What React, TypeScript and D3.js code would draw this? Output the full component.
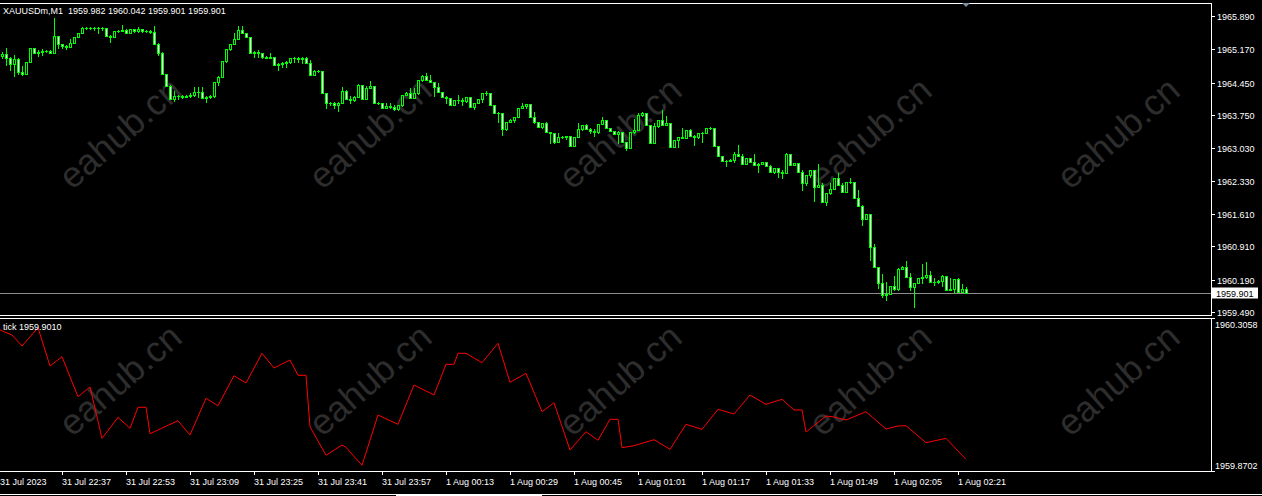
import React from 'react';
import * as d3 from 'd3';

const W = 1262;
const H = 496;

// M1 candles, 31 Jul 22:22 .. 1 Aug 02:23 (open = previous close)
const firstOpen = 1965.02;
const closes = [
  1965.07, 1964.98, 1964.85, 1964.96, 1964.68, 1964.64, 1964.89, 1965.20, 1965.09, 1965.11,
  1965.13, 1965.13, 1965.09, 1965.46, 1965.29, 1965.24, 1965.22, 1965.31, 1965.44, 1965.52,
  1965.63, 1965.63, 1965.63, 1965.63, 1965.63, 1965.63, 1965.46, 1965.44, 1965.57, 1965.57,
  1965.59, 1965.52, 1965.61, 1965.57, 1965.61, 1965.57, 1965.57, 1965.54, 1965.29, 1965.09,
  1964.64, 1964.38, 1964.10, 1964.16, 1964.16, 1964.14, 1964.16, 1964.18, 1964.25, 1964.25,
  1964.12, 1964.14, 1964.16, 1964.46, 1964.57, 1964.92, 1965.18, 1965.29, 1965.39, 1965.59,
  1965.52, 1965.44, 1965.09, 1965.11, 1965.09, 1965.00, 1964.98, 1965.00, 1964.83, 1964.85,
  1964.87, 1964.89, 1964.98, 1964.98, 1964.96, 1964.98, 1964.87, 1964.61, 1964.70, 1964.70,
  1964.23, 1964.01, 1964.01, 1963.97, 1964.01, 1964.27, 1964.10, 1964.07, 1964.14, 1964.40,
  1964.10, 1964.33, 1964.38, 1964.01, 1964.01, 1963.90, 1963.94, 1963.92, 1963.88, 1963.97,
  1964.18, 1964.23, 1964.12, 1964.23, 1964.51, 1964.59, 1964.51, 1964.46, 1964.36, 1964.25,
  1964.14, 1964.12, 1963.97, 1964.07, 1964.07, 1964.05, 1964.14, 1963.92, 1964.01, 1964.10,
  1964.23, 1964.23, 1963.97, 1963.79, 1963.79, 1963.45, 1963.60, 1963.64, 1963.71, 1963.90,
  1963.94, 1963.99, 1963.71, 1963.60, 1963.49, 1963.58, 1963.38, 1963.36, 1963.17, 1963.27,
  1963.27, 1963.30, 1963.08, 1963.27, 1963.45, 1963.53, 1963.45, 1963.40, 1963.38, 1963.56,
  1963.64, 1963.47, 1963.40, 1963.34, 1963.38, 1963.17, 1963.04, 1963.38, 1963.43, 1963.75,
  1963.79, 1963.53, 1963.14, 1963.51, 1963.64, 1963.53, 1963.58, 1963.06, 1963.21, 1963.27,
  1963.25, 1963.43, 1963.30, 1963.27, 1963.36, 1963.36, 1963.47, 1963.47, 1963.08, 1962.86,
  1962.76, 1962.76, 1962.78, 1962.91, 1962.86, 1962.69, 1962.82, 1962.73, 1962.67, 1962.69,
  1962.73, 1962.65, 1962.52, 1962.60, 1962.52, 1962.50, 1962.91, 1962.67, 1962.71, 1962.52,
  1962.28, 1962.45, 1962.56, 1962.19, 1962.24, 1961.87, 1962.06, 1962.15, 1962.39, 1962.24,
  1962.08, 1962.30, 1962.30, 1961.96, 1961.78, 1961.50, 1961.61, 1960.90, 1960.46, 1960.12,
  1959.86, 1959.88, 1960.05, 1959.99, 1960.42, 1960.46, 1960.25, 1960.03, 1960.12, 1960.23,
  1960.25, 1960.29, 1960.14, 1960.14, 1960.16, 1960.27, 1959.97, 1959.99, 1960.20, 1959.92,
  1959.98, 1959.90,
];
const highs = [
  1965.11, 1965.20, 1965.00, 1965.05, 1964.98, 1964.81, 1964.89, 1965.20, 1965.20, 1965.15,
  1965.18, 1965.15, 1965.15, 1965.85, 1965.46, 1965.29, 1965.26, 1965.39, 1965.44, 1965.52,
  1965.65, 1965.65, 1965.65, 1965.65, 1965.65, 1965.65, 1965.63, 1965.48, 1965.57, 1965.59,
  1965.70, 1965.61, 1965.61, 1965.61, 1965.65, 1965.61, 1965.59, 1965.59, 1965.67, 1965.31,
  1965.11, 1964.64, 1964.40, 1964.27, 1964.18, 1964.18, 1964.18, 1964.23, 1964.36, 1964.36,
  1964.36, 1964.16, 1964.18, 1964.46, 1964.59, 1964.92, 1965.18, 1965.29, 1965.52, 1965.67,
  1965.67, 1965.52, 1965.44, 1965.13, 1965.15, 1965.02, 1965.02, 1965.09, 1965.00, 1964.87,
  1964.89, 1964.92, 1964.98, 1965.00, 1965.00, 1965.00, 1965.00, 1964.94, 1964.72, 1964.72,
  1964.70, 1964.23, 1964.03, 1964.03, 1964.03, 1964.36, 1964.29, 1964.16, 1964.16, 1964.42,
  1964.40, 1964.38, 1964.48, 1964.38, 1964.03, 1964.01, 1964.01, 1964.01, 1963.97, 1963.97,
  1964.18, 1964.25, 1964.33, 1964.33, 1964.51, 1964.61, 1964.66, 1964.61, 1964.46, 1964.44,
  1964.25, 1964.16, 1964.12, 1964.07, 1964.18, 1964.12, 1964.14, 1964.14, 1964.01, 1964.10,
  1964.23, 1964.27, 1964.23, 1963.97, 1963.81, 1963.79, 1963.60, 1963.66, 1963.71, 1963.90,
  1964.01, 1963.99, 1963.99, 1963.81, 1963.60, 1963.58, 1963.60, 1963.38, 1963.36, 1963.36,
  1963.30, 1963.30, 1963.30, 1963.27, 1963.58, 1963.53, 1963.56, 1963.47, 1963.45, 1963.56,
  1963.71, 1963.64, 1963.47, 1963.40, 1963.40, 1963.38, 1963.17, 1963.38, 1963.66, 1963.79,
  1963.81, 1963.79, 1963.53, 1963.58, 1963.64, 1963.86, 1963.73, 1963.58, 1963.21, 1963.27,
  1963.47, 1963.43, 1963.45, 1963.32, 1963.36, 1963.38, 1963.47, 1963.49, 1963.47, 1963.08,
  1962.86, 1962.78, 1962.80, 1962.95, 1963.10, 1962.91, 1962.82, 1962.82, 1962.91, 1962.71,
  1962.73, 1962.73, 1962.67, 1962.60, 1962.60, 1962.56, 1962.93, 1962.91, 1962.71, 1962.71,
  1962.56, 1962.45, 1962.56, 1962.56, 1962.69, 1962.28, 1962.06, 1962.28, 1962.39, 1962.50,
  1962.28, 1962.30, 1962.39, 1962.30, 1962.13, 1961.80, 1961.61, 1961.61, 1960.96, 1960.46,
  1960.31, 1960.14, 1960.05, 1960.27, 1960.44, 1960.48, 1960.59, 1960.33, 1960.12, 1960.23,
  1960.53, 1960.57, 1960.38, 1960.23, 1960.18, 1960.29, 1960.27, 1960.23, 1960.20, 1960.23,
  1960.10, 1960.04,
];
const lows = [
  1964.98, 1964.83, 1964.72, 1964.59, 1964.64, 1964.61, 1964.64, 1964.89, 1965.09, 1965.02,
  1965.05, 1965.11, 1965.09, 1965.09, 1965.20, 1965.20, 1965.18, 1965.22, 1965.31, 1965.44,
  1965.52, 1965.61, 1965.61, 1965.59, 1965.52, 1965.59, 1965.46, 1965.33, 1965.44, 1965.54,
  1965.57, 1965.52, 1965.52, 1965.54, 1965.54, 1965.54, 1965.54, 1965.52, 1965.29, 1965.05,
  1964.64, 1964.38, 1964.10, 1964.05, 1964.10, 1964.12, 1964.14, 1964.14, 1964.16, 1964.14,
  1964.12, 1964.03, 1964.12, 1964.14, 1964.40, 1964.57, 1964.89, 1965.15, 1965.29, 1965.39,
  1965.52, 1965.44, 1965.09, 1965.00, 1965.00, 1964.98, 1964.98, 1964.98, 1964.83, 1964.72,
  1964.79, 1964.79, 1964.87, 1964.89, 1964.89, 1964.87, 1964.87, 1964.61, 1964.61, 1964.68,
  1964.23, 1963.90, 1963.97, 1963.90, 1963.84, 1964.01, 1964.10, 1964.01, 1964.05, 1964.14,
  1964.10, 1964.10, 1964.33, 1964.01, 1963.99, 1963.90, 1963.90, 1963.90, 1963.86, 1963.86,
  1963.94, 1964.18, 1964.12, 1964.12, 1964.20, 1964.48, 1964.51, 1964.46, 1964.16, 1964.25,
  1964.14, 1964.01, 1963.97, 1963.97, 1964.01, 1963.97, 1964.03, 1963.92, 1963.88, 1964.01,
  1964.03, 1964.18, 1963.97, 1963.79, 1963.60, 1963.32, 1963.43, 1963.60, 1963.60, 1963.71,
  1963.90, 1963.90, 1963.71, 1963.58, 1963.49, 1963.47, 1963.38, 1963.14, 1963.14, 1963.17,
  1963.25, 1963.23, 1963.08, 1963.08, 1963.27, 1963.43, 1963.45, 1963.36, 1963.30, 1963.36,
  1963.56, 1963.47, 1963.40, 1963.34, 1963.14, 1963.17, 1962.99, 1963.04, 1963.36, 1963.43,
  1963.73, 1963.53, 1963.14, 1963.14, 1963.49, 1963.53, 1963.53, 1963.06, 1963.06, 1963.06,
  1963.25, 1963.25, 1963.30, 1963.10, 1963.25, 1963.17, 1963.36, 1963.45, 1963.08, 1962.86,
  1962.76, 1962.65, 1962.76, 1962.73, 1962.86, 1962.69, 1962.69, 1962.73, 1962.67, 1962.52,
  1962.69, 1962.65, 1962.52, 1962.50, 1962.41, 1962.39, 1962.50, 1962.67, 1962.67, 1962.52,
  1962.13, 1962.24, 1962.41, 1961.89, 1962.21, 1961.87, 1961.80, 1962.04, 1962.15, 1962.24,
  1962.08, 1962.08, 1962.28, 1961.96, 1961.78, 1961.37, 1961.50, 1960.61, 1960.46, 1960.01,
  1959.81, 1959.75, 1959.88, 1959.97, 1959.97, 1960.42, 1960.25, 1959.97, 1959.60, 1960.12,
  1960.12, 1960.23, 1960.14, 1960.07, 1960.12, 1960.05, 1959.97, 1959.97, 1959.90, 1959.92,
  1959.92, 1959.90,
];

const priceTicks = [1965.89, 1965.17, 1964.45, 1963.75, 1963.03, 1962.33, 1961.61, 1960.91, 1960.19, 1959.49];
const lastPrice = 1959.901;
const header = 'XAUUSDm,M1  1959.982 1960.042 1959.901 1959.901';

const timeLabels = [
  '31 Jul 2023', '31 Jul 22:37', '31 Jul 22:53', '31 Jul 23:09', '31 Jul 23:25', '31 Jul 23:41',
  '31 Jul 23:57', '1 Aug 00:13', '1 Aug 00:29', '1 Aug 00:45', '1 Aug 01:01', '1 Aug 01:17',
  '1 Aug 01:33', '1 Aug 01:49', '1 Aug 02:05', '1 Aug 02:21',
];
const timeLabelBars = [0, 15, 31, 47, 63, 79, 95, 111, 127, 143, 159, 175, 191, 207, 223, 239];

// "tick" indicator sub-window
const tickBars = [
  -0.5, 2.5, 5, 9, 12, 15, 19, 22, 25, 29, 32, 34, 36, 37, 44, 47, 51, 54, 58, 61,
  65, 68, 72, 74, 76, 77, 81, 85, 86, 90, 94, 99, 103, 108, 111, 113, 114, 116, 120, 124,
  127, 131, 135, 138, 142, 146, 149, 152, 154, 155, 158, 163, 167, 171, 175, 179, 183, 187, 191, 195,
  198, 200, 201, 206, 208, 211, 216, 221, 224, 226, 231, 236, 241,
];
const tickValues = [
  1960.2741, 1960.2596, 1960.2279, 1960.2807, 1960.1702, 1960.1970, 1960.0817, 1960.1096, 1959.9616, 1960.0222,
  1959.9905, 1960.0511, 1960.0511, 1959.9749, 1960.0124, 1959.9712, 1960.0770, 1960.0557, 1960.1422, 1960.1212,
  1960.2069, 1960.1644, 1960.1875, 1960.1434, 1960.1434, 1959.9951, 1959.9126, 1959.9423, 1959.9357, 1959.8838,
  1960.0289, 1960.0020, 1960.1154, 1960.0866, 1960.1751, 1960.1751, 1960.2069, 1960.2069, 1960.1797, 1960.2357,
  1960.1232, 1960.1492, 1960.0384, 1960.0643, 1959.9279, 1959.9807, 1959.9559, 1960.0165, 1960.0165, 1959.9345,
  1959.9403, 1959.9576, 1959.9299, 1960.0020, 1959.9876, 1960.0453, 1960.0317, 1960.0866, 1960.0597, 1960.0742,
  1960.0433, 1960.0433, 1959.9798, 1960.0260, 1960.0231, 1960.0144, 1960.0384, 1959.9885, 1959.9971, 1959.9980,
  1959.9490, 1959.9616, 1959.9010,
];
const subMax = 1960.3058;
const subMin = 1959.8702;

const FONT = '"Liberation Sans", Arial, sans-serif';
const LIME = '#00ff00';

export default function App() {
  const x = d3.scaleLinear().domain([0, closes.length - 1]).range([2, 966]);
  const y = d3.scaleLinear().domain([1959.49, 1965.89]).range([312, 16]);
  const ySub = d3.scaleLinear().domain([subMin, subMax]).range([470, 319]);

  const tickLine = d3
    .line<number>()
    .x((_, i) => Math.max(0, x(tickBars[i])))
    .y((v) => ySub(v))(tickValues);

  const candles = closes.map((c, i) => {
    const o = i === 0 ? firstOpen : closes[i - 1];
    const h = Math.max(highs[i], o, c);
    const l = Math.min(lows[i], o, c);
    const cx = Math.round(x(i)) + 0.5;
    const yo = Math.round(y(o));
    const yc = Math.round(y(c));
    const top = Math.min(yo, yc);
    const bot = Math.max(yo, yc);
    return (
      <g key={i}>
        <line x1={cx} x2={cx} y1={Math.round(y(h))} y2={Math.round(y(l)) + 1} stroke={LIME} />
        {bot - top < 1 ? (
          <line x1={cx - 1.5} x2={cx + 1.5} y1={top + 0.5} y2={top + 0.5} stroke={LIME} />
        ) : (
          <rect x={cx - 1} y={top + 0.5} width={2} height={bot - top} fill={c < o ? '#ffffff' : '#000000'} stroke={LIME} />
        )}
      </g>
    );
  });

  const wmX = [122, 372, 622, 872, 1120];
  const wmY = [135, 382];
  const lastY = Math.round(y(lastPrice)) + 0.5;

  return (
    <svg width={W} height={H} style={{ position: 'fixed', left: 0, top: 0, background: '#000' }} fontFamily={FONT}>
      <rect width={W} height={H} fill="#000" />

      {/* watermarks */}
      {wmY.map((wy) =>
        wmX.map((wx) => (
          <text
            key={`${wx}-${wy}`}
            transform={`translate(${wx},${wy}) rotate(-41)`}
            textAnchor="middle"
            dominantBaseline="middle"
            fontSize={36}
            fill="#2d2d2d"
          >
            eahub.cn
          </text>
        ))
      )}

      {/* current price line */}
      <line x1={0} x2={1211} y1={lastY} y2={lastY} stroke="#8c8c8c" />

      {candles}

      {/* tick sub-window */}
      <path d={tickLine || ''} fill="none" stroke="#ff0000" strokeWidth={1} />

      {/* frames */}
      <g stroke="#ffffff" fill="none">
        <line x1={0} x2={1212} y1={3.5} y2={3.5} />
        <line x1={1211.5} x2={1211.5} y1={3} y2={316} />
        <line x1={0} x2={1212} y1={315.5} y2={315.5} />
        <line x1={0} x2={1212} y1={318.5} y2={318.5} />
        <line x1={1211.5} x2={1211.5} y1={318} y2={472} />
        <line x1={0} x2={1212} y1={471.5} y2={471.5} />
      </g>

      {/* chart shift marker */}
      <polygon points="962,3 970,3 966,7" fill="#7b8ea0" />

      {/* header */}
      <text x={3} y={14} fontSize={9} fill="#ffffff" style={{ whiteSpace: 'pre' }}>
        {header}
      </text>
      <text x={3} y={330} fontSize={9} fill="#ffffff">
        {`tick ${tickValues[tickValues.length - 1].toFixed(4)}`}
      </text>

      {/* price axis */}
      {priceTicks.map((p) => {
        const py = Math.round(y(p)) + 0.5;
        return (
          <g key={p}>
            <line x1={1212} x2={1215} y1={py} y2={py} stroke="#ffffff" />
            <text x={1217} y={py + 3.5} fontSize={9} fill="#ffffff">
              {p.toFixed(3)}
            </text>
          </g>
        );
      })}
      <rect x={1212} y={287.5} width={46} height={11} fill="#ffffff" />
      <text x={1216} y={lastY + 3.5} fontSize={9} fill="#000000">
        {lastPrice.toFixed(3)}
      </text>

      {/* sub-window scale */}
      <line x1={1212} x2={1215} y1={318.5} y2={318.5} stroke="#ffffff" />
      <line x1={1212} x2={1215} y1={471.5} y2={471.5} stroke="#ffffff" />
      <text x={1215} y={328} fontSize={9} fill="#ffffff">{subMax.toFixed(4)}</text>
      <text x={1215} y={469} fontSize={9} fill="#ffffff">{subMin.toFixed(4)}</text>

      {/* time axis */}
      {timeLabels.map((t, i) => {
        const tx = Math.round(x(timeLabelBars[i])) + 0.5;
        return (
          <g key={t}>
            {i > 0 && <line x1={tx} x2={tx} y1={472} y2={475} stroke="#ffffff" />}
            <text x={i === 0 ? 0 : tx - 0.5} y={485} fontSize={9} fill="#ffffff">
              {t}
            </text>
          </g>
        );
      })}

      {/* bottom bar */}
      <line x1={0} x2={W} y1={494.5} y2={494.5} stroke="#ffffff" />
      <rect x={396} y={494} width={146} height={2} fill="#ffffff" />
    </svg>
  );
}
